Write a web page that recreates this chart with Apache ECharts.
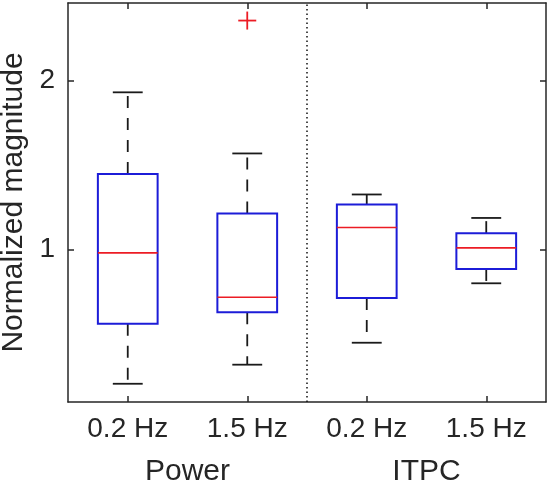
<!DOCTYPE html>
<html>
<head>
<meta charset="utf-8">
<script src="https://cdn.jsdelivr.net/npm/echarts@6/dist/echarts.min.js"></script>
<style>html,body{margin:0;padding:0;background:#fff}#c{width:551px;height:486px}</style>
</head>
<body>
<div id="c"></div>
<script>
const categories = ['0.2 Hz', '1.5 Hz', '0.2 Hz', '1.5 Hz'];
const groups = ['Power', 'ITPC'];
const lowerWhisker = [0.205, 0.318, 0.448, 0.800];
const q1 = [0.561, 0.628, 0.713, 0.885];
const medians = [0.980, 0.717, 1.130, 1.010];
const q3 = [1.447, 1.213, 1.267, 1.097];
const upperWhisker = [1.931, 1.569, 1.326, 1.187];
const outlierX = [2];
const outlierY = [2.356];
const yTicks = [1, 2];
const yMin = 0.097, yMax = 2.46;

const positions = categories.map((_, i) => i + 1);
const boxData = positions.map((p, i) => [p, lowerWhisker[i], q1[i], medians[i], q3[i], upperWhisker[i]]);
const outlierData = outlierX.map((x, i) => [x, outlierY[i]]);
const divider = categories.length / groups.length + 0.5;

const FONT = '"Liberation Sans", Arial, Helvetica, sans-serif';
const AX = '#262626';
const BOXW = 0.25, CAPW = 0.125;

const chart = echarts.init(document.getElementById('c'), null, {renderer: 'canvas'});

function renderBox(params, api) {
  const x = api.value(0), lw = api.value(1), a = api.value(2), m = api.value(3), b = api.value(4), uw = api.value(5);
  const L = api.coord([x - BOXW, b]), R = api.coord([x + BOXW, a]);
  const c = (xx, yy) => api.coord([xx, yy]);
  const wStyle = {stroke: '#1a1a1a', lineWidth: 1.8, lineDash: [12, 10]};
  const capStyle = {stroke: '#1a1a1a', lineWidth: 1.8};
  const pq3 = c(x, b), puw = c(x, uw), pq1 = c(x, a), plw = c(x, lw);
  const cu1 = c(x - CAPW, uw), cu2 = c(x + CAPW, uw);
  const cl1 = c(x - CAPW, lw), cl2 = c(x + CAPW, lw);
  const m1 = c(x - BOXW, m), m2 = c(x + BOXW, m);
  return {
    type: 'group',
    children: [
      {type: 'line', shape: {x1: pq3[0], y1: pq3[1], x2: puw[0], y2: puw[1]}, style: wStyle},
      {type: 'line', shape: {x1: pq1[0], y1: pq1[1], x2: plw[0], y2: plw[1]}, style: wStyle},
      {type: 'line', shape: {x1: cu1[0], y1: cu1[1], x2: cu2[0], y2: cu2[1]}, style: capStyle},
      {type: 'line', shape: {x1: cl1[0], y1: cl1[1], x2: cl2[0], y2: cl2[1]}, style: capStyle},
      {type: 'rect', shape: {x: L[0], y: L[1], width: R[0] - L[0], height: R[1] - L[1]},
        style: {fill: 'none', stroke: '#1c1cd8', lineWidth: 2}},
      {type: 'line', shape: {x1: m1[0], y1: m1[1], x2: m2[0], y2: m2[1]}, style: {stroke: '#ec1c24', lineWidth: 1.6}}
    ]
  };
}

function renderOutlier(params, api) {
  const p = api.coord([api.value(0), api.value(1)]);
  const h = 9;
  const st = {stroke: '#ec1c24', lineWidth: 1.8};
  return {type: 'group', children: [
    {type: 'line', shape: {x1: p[0] - h, y1: p[1], x2: p[0] + h, y2: p[1]}, style: st},
    {type: 'line', shape: {x1: p[0], y1: p[1] - h, x2: p[0], y2: p[1] + h}, style: st}
  ]};
}

const axisLine = {show: true, onZero: false, lineStyle: {color: AX, width: 1.5}};
const tickBase = {show: true, inside: true, length: 6, lineStyle: {color: AX, width: 1.5}};

chart.setOption({
  animation: false,
  backgroundColor: '#fff',
  grid: {left: 68, right: 5, top: 3, bottom: 84, containLabel: false, outerBoundsMode: 'none'},
  xAxis: [
    {type: 'value', position: 'bottom', min: 0.5, max: categories.length + 0.5,
      axisLine: axisLine,
      axisTick: Object.assign({customValues: positions}, tickBase),
      axisLabel: {customValues: positions, margin: 13, fontSize: 28, fontFamily: FONT, color: AX,
        formatter: v => categories[Math.round(v) - 1] || ''},
      splitLine: {show: false}},
    {type: 'value', position: 'top', min: 0.5, max: categories.length + 0.5,
      axisLine: axisLine,
      axisTick: Object.assign({customValues: positions}, tickBase),
      axisLabel: {show: false}, splitLine: {show: false}}
  ],
  yAxis: [
    {type: 'value', position: 'left', min: yMin, max: yMax,
      name: 'Normalized magnitude', nameLocation: 'middle', nameGap: 34,
      nameTextStyle: {fontSize: 30, fontFamily: FONT, color: AX},
      axisLine: axisLine,
      axisTick: Object.assign({customValues: yTicks}, tickBase),
      axisLabel: {customValues: yTicks, margin: 13, fontSize: 28, fontFamily: FONT, color: AX},
      splitLine: {show: false}},
    {type: 'value', position: 'right', min: yMin, max: yMax,
      axisLine: axisLine,
      axisTick: Object.assign({customValues: yTicks}, tickBase),
      axisLabel: {show: false}, splitLine: {show: false}}
  ],
  series: [
    {type: 'custom', renderItem: renderBox, data: boxData, xAxisIndex: 0, yAxisIndex: 0, silent: true,
      markLine: {silent: true, symbol: 'none', label: {show: false},
        lineStyle: {color: '#111', type: [1.5, 3], width: 1.5},
        data: [{xAxis: divider}]}},
    {type: 'custom', renderItem: renderOutlier, data: outlierData, xAxisIndex: 0, yAxisIndex: 0, silent: true}
  ]
});

const perGroup = categories.length / groups.length;
const groupGraphics = groups.map((g, gi) => {
  const cx = (gi * perGroup + 1 + (gi + 1) * perGroup) / 2;
  const px = chart.convertToPixel({xAxisIndex: 0}, cx);
  return {type: 'text', x: px, y: 472,
    style: {text: g, fontSize: 30, fontFamily: FONT, fill: AX, align: 'center', verticalAlign: 'middle'}};
});
chart.setOption({graphic: groupGraphics});
</script>
</body>
</html>
